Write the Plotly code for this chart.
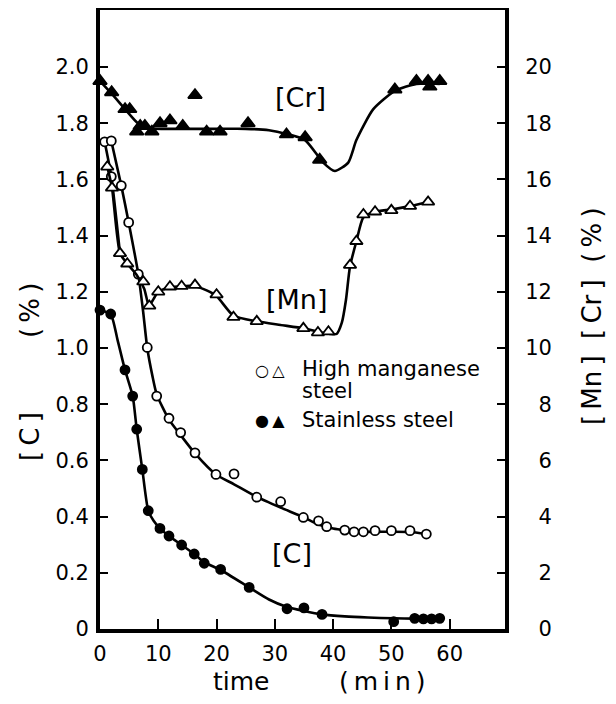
import plotly.graph_objects as go

# ---------------- data ----------------
# [Cr] stainless steel (filled triangles), right axis, %
cr_t = [0, 2.0, 4.3, 5.1, 6.3, 6.9, 7.7, 8.9, 10.3, 12.0, 14.2, 16.3, 18.3, 20.6,
        25.4, 32.0, 35.2, 37.7, 50.6, 54.3, 56.3, 56.6, 58.3]
cr_v = [19.5, 19.1, 18.5, 18.5, 17.7, 17.9, 17.9, 17.7, 18.0, 18.1, 17.9, 19.0, 17.7, 17.7,
        18.0, 17.6, 17.5, 16.7, 19.2, 19.5, 19.5, 19.3, 19.5]
# hand-drawn [Cr] curve
crc_t = [0, 2.0, 4.3, 6.5, 8.5, 11, 15, 20, 25, 29, 32.0, 35.2, 38.3, 40.3, 42.6,
         44.0, 46.9, 50.6, 54.3, 58.3]
crc_v = [19.5, 19.05, 18.5, 18.0, 17.82, 17.8, 17.8, 17.8, 17.8, 17.75, 17.62, 17.4,
         16.6, 16.3, 16.6, 17.4, 18.5, 19.15, 19.4, 19.4]

# [Mn] high manganese steel (open triangles), right axis, %
mn_t = [1.25, 2.06, 3.43, 4.68, 7.43, 8.46, 10.0, 12.0, 14.0, 16.3, 20.0, 22.9, 26.9,
        34.9, 37.4, 39.2, 42.9, 44.0, 45.2, 47.2, 50.0, 53.2, 56.3]
mn_v = [16.45, 15.7, 13.37, 13.0, 12.36, 11.5, 12.0, 12.18, 12.2, 12.24, 11.9, 11.1, 10.95,
        10.7, 10.55, 10.58, 12.95, 13.8, 14.75, 14.85, 14.9, 15.05, 15.2]
# hand-drawn [Mn] curve
mnc_t = [1.25, 2.06, 3.43, 4.68, 6.3, 7.6, 8.4, 9.2, 10.0, 12.0, 14.0, 16.3, 18.3, 20.0,
         22.9, 26.9, 31.0, 34.9, 37.4, 39.5, 40.6, 41.5, 42.2, 42.9, 44.0, 45.2, 47.2,
         50.0, 53.2, 56.3]
mnc_v = [16.45, 15.7, 13.37, 13.0, 12.6, 12.1, 11.5, 11.75, 12.0, 12.15, 12.2, 12.2, 12.05,
         11.85, 11.15, 10.95, 10.82, 10.7, 10.58, 10.5, 10.5, 10.9, 11.7, 12.9, 13.8, 14.65,
         14.85, 14.93, 15.05, 15.2]
# short extra stroke at the start of the high-Mn lines (left axis, %)
brc_t = [0.8, 1.94, 3.43]
brc_v = [1.734, 1.61, 1.337]

# [C] high manganese steel (open circles), left axis, %
ch_t = [0.8, 1.94, 1.94, 3.65, 4.92, 6.57, 8.11, 9.73, 11.84, 13.84, 16.3, 19.9, 23.0,
        26.9, 31.0, 34.9, 37.5, 38.9, 42.0, 43.6, 45.2, 47.2, 50.0, 53.2, 56.0]
ch_v = [1.734, 1.737, 1.61, 1.578, 1.447, 1.263, 1.002, 0.829, 0.75, 0.699, 0.627, 0.55,
        0.552, 0.469, 0.453, 0.397, 0.385, 0.364, 0.352, 0.346, 0.346, 0.35, 0.35, 0.35, 0.338]
chc_t = [1.94, 3.65, 4.92, 6.57, 7.4, 8.11, 9.0, 9.73, 11.84, 13.84, 16.3, 19.9, 23.0,
         26.9, 31.0, 34.9, 37.5, 40.0, 42.0, 45.2, 50.0, 53.2, 56.0]
chc_v = [1.737, 1.578, 1.447, 1.263, 1.13, 1.0, 0.9, 0.835, 0.745, 0.69, 0.625, 0.55, 0.515,
         0.47, 0.432, 0.398, 0.372, 0.358, 0.352, 0.346, 0.346, 0.345, 0.338]

# [C] stainless steel (filled circles), left axis, %
cs_t = [0, 1.84, 4.29, 5.61, 6.30, 7.26, 8.28, 10.29, 11.84, 14.01, 16.17, 17.89, 20.7,
        25.6, 32.1, 35.0, 38.1, 50.4, 54.0, 55.5, 56.9, 58.3]
cs_v = [1.135, 1.121, 0.922, 0.829, 0.711, 0.568, 0.421, 0.358, 0.331, 0.299, 0.267, 0.234,
        0.212, 0.148, 0.072, 0.075, 0.052, 0.026, 0.038, 0.036, 0.036, 0.038]
csc_t = [0, 1.84, 3.0, 4.29, 5.61, 6.30, 7.26, 8.28, 9.2, 10.29, 11.84, 14.01, 16.17, 17.89,
         20.7, 25.6, 29.0, 32.1, 35.0, 38.1, 42.0, 46.0, 50.4, 54.0, 58.3]
csc_v = [1.135, 1.12, 1.03, 0.922, 0.829, 0.711, 0.568, 0.421, 0.385, 0.358, 0.331, 0.299,
         0.267, 0.238, 0.21, 0.148, 0.105, 0.078, 0.064, 0.052, 0.045, 0.041, 0.038, 0.037, 0.037]

# ticks
x_ticks = [0, 10, 20, 30, 40, 50, 60]
y_ticks = [0, 0.2, 0.4, 0.6, 0.8, 1.0, 1.2, 1.4, 1.6, 1.8, 2.0]
y_tick_text = ["0", "0.2", "0.4", "0.6", "0.8", "1.0", "1.2", "1.4", "1.6", "1.8", "2.0"]
y2_ticks = [0, 2, 4, 6, 8, 10, 12, 14, 16, 18, 20]
y2_tick_text = ["\u2007" + str(v) if v < 10 else str(v) for v in y2_ticks]

# ---------------- geometry (page pixels; the page body has an 8px margin) ----------------
PAGE_OFF = 8
FIG_W, FIG_H = 616 - 2 * PAGE_OFF, 704 - 2 * PAGE_OFF
PL, PR, PT, PB = 100, 505, 10, 629          # plot-area edges on the page


def px(x):   # page x -> paper x
    return (x - PL) / (PR - PL)


def py(y):   # page y -> paper y
    return (PB - y) / (PB - PT)


FONT = "DejaVu Sans"
BLK = "black"
fig = go.Figure()


def curve(x, y, yaxis="y"):
    fig.add_trace(go.Scatter(x=x, y=y, yaxis=yaxis, mode="lines", hoverinfo="skip",
                             line=dict(color=BLK, width=2.6, shape="spline", smoothing=0.6),
                             showlegend=False, cliponaxis=False))


def points(x, y, symbol, filled, size, yaxis="y"):
    fig.add_trace(go.Scatter(x=x, y=y, yaxis=yaxis, mode="markers", showlegend=False,
                             cliponaxis=False,
                             marker=dict(symbol=symbol, size=size,
                                         color=BLK if filled else "white",
                                         line=dict(color=BLK, width=1.8))))


curve(crc_t, crc_v, "y2")
curve(mnc_t, mnc_v, "y2")
curve(brc_t, brc_v)
curve(chc_t, chc_v)
curve(csc_t, csc_v)
points(cr_t, cr_v, "triangle-up", True, 12, "y2")
points(mn_t, mn_v, "triangle-up", False, 11, "y2")
points(ch_t, ch_v, "circle", False, 9)
points(cs_t, cs_v, "circle", True, 9)

axis_common = dict(showgrid=False, zeroline=False, showline=True, linecolor=BLK, linewidth=4,
                   ticks="inside", tickcolor=BLK, tickwidth=2, automargin=False,
                   tickfont=dict(family=FONT, size=21, color=BLK))

fig.update_layout(
    width=FIG_W, height=FIG_H,
    margin=dict(l=PL - PAGE_OFF, r=FIG_W - (PR - PAGE_OFF), t=PT - PAGE_OFF,
                b=FIG_H - (PB - PAGE_OFF), pad=0),
    paper_bgcolor="white", plot_bgcolor="white",
    showlegend=False,
    xaxis=dict(range=[0, 69.5], tickmode="array", tickvals=x_ticks, ticklen=10,
               mirror=True, ticklabelstandoff=3, **axis_common),
    yaxis=dict(range=[0, 2.203], tickmode="array", tickvals=y_ticks, ticktext=y_tick_text,
               ticklen=8, ticklabelstandoff=3, **axis_common),
    yaxis2=dict(range=[0, 22.03], overlaying="y", side="right", tickmode="array",
                tickvals=y2_ticks, ticktext=y2_tick_text, ticklen=8,
                ticklabelstandoff=12, **axis_common),
)


def label(text, x, y, size, xanchor="center", angle=0):
    fig.add_annotation(text=text, x=px(x), y=py(y), xref="paper", yref="paper",
                       showarrow=False, xanchor=xanchor, yanchor="middle", textangle=angle,
                       font=dict(family=FONT, size=size, color=BLK))


ts = "\u2009"
# curve labels
label("[Cr]", 300, 97, 27)
label("[Mn]", 296, 299, 27)
label("[C]", 292, 553, 27)

# legend
label("\u25CB\u2009\u25B3", 253, 370, 16, xanchor="left")
label("\u25CF\u2009\u25B2", 253, 420, 16, xanchor="left")
label("High manganese", 300, 369, 21, xanchor="left")
label("steel", 300, 391, 21, xanchor="left")
label("Stainless steel", 300, 420, 21, xanchor="left")

# axis titles
label("time", 241, 681, 25)
label("(" + ts + "m" + ts + "i" + ts + "n" + ts + ")", 382, 681, 25)
label("(" + ts + "%" + ts + ")", 30, 311, 26, angle=-90)
label("[" + ts + "C" + ts + "]", 30, 437, 26, angle=-90)
label("[" + ts + "Mn" + ts + "]\u00a0\u00a0[" + ts + "Cr" + ts + "]\u00a0\u00a0(" + ts + "%" + ts + ")",
      592, 316, 26, angle=-90)

fig.write_html("out.html")
